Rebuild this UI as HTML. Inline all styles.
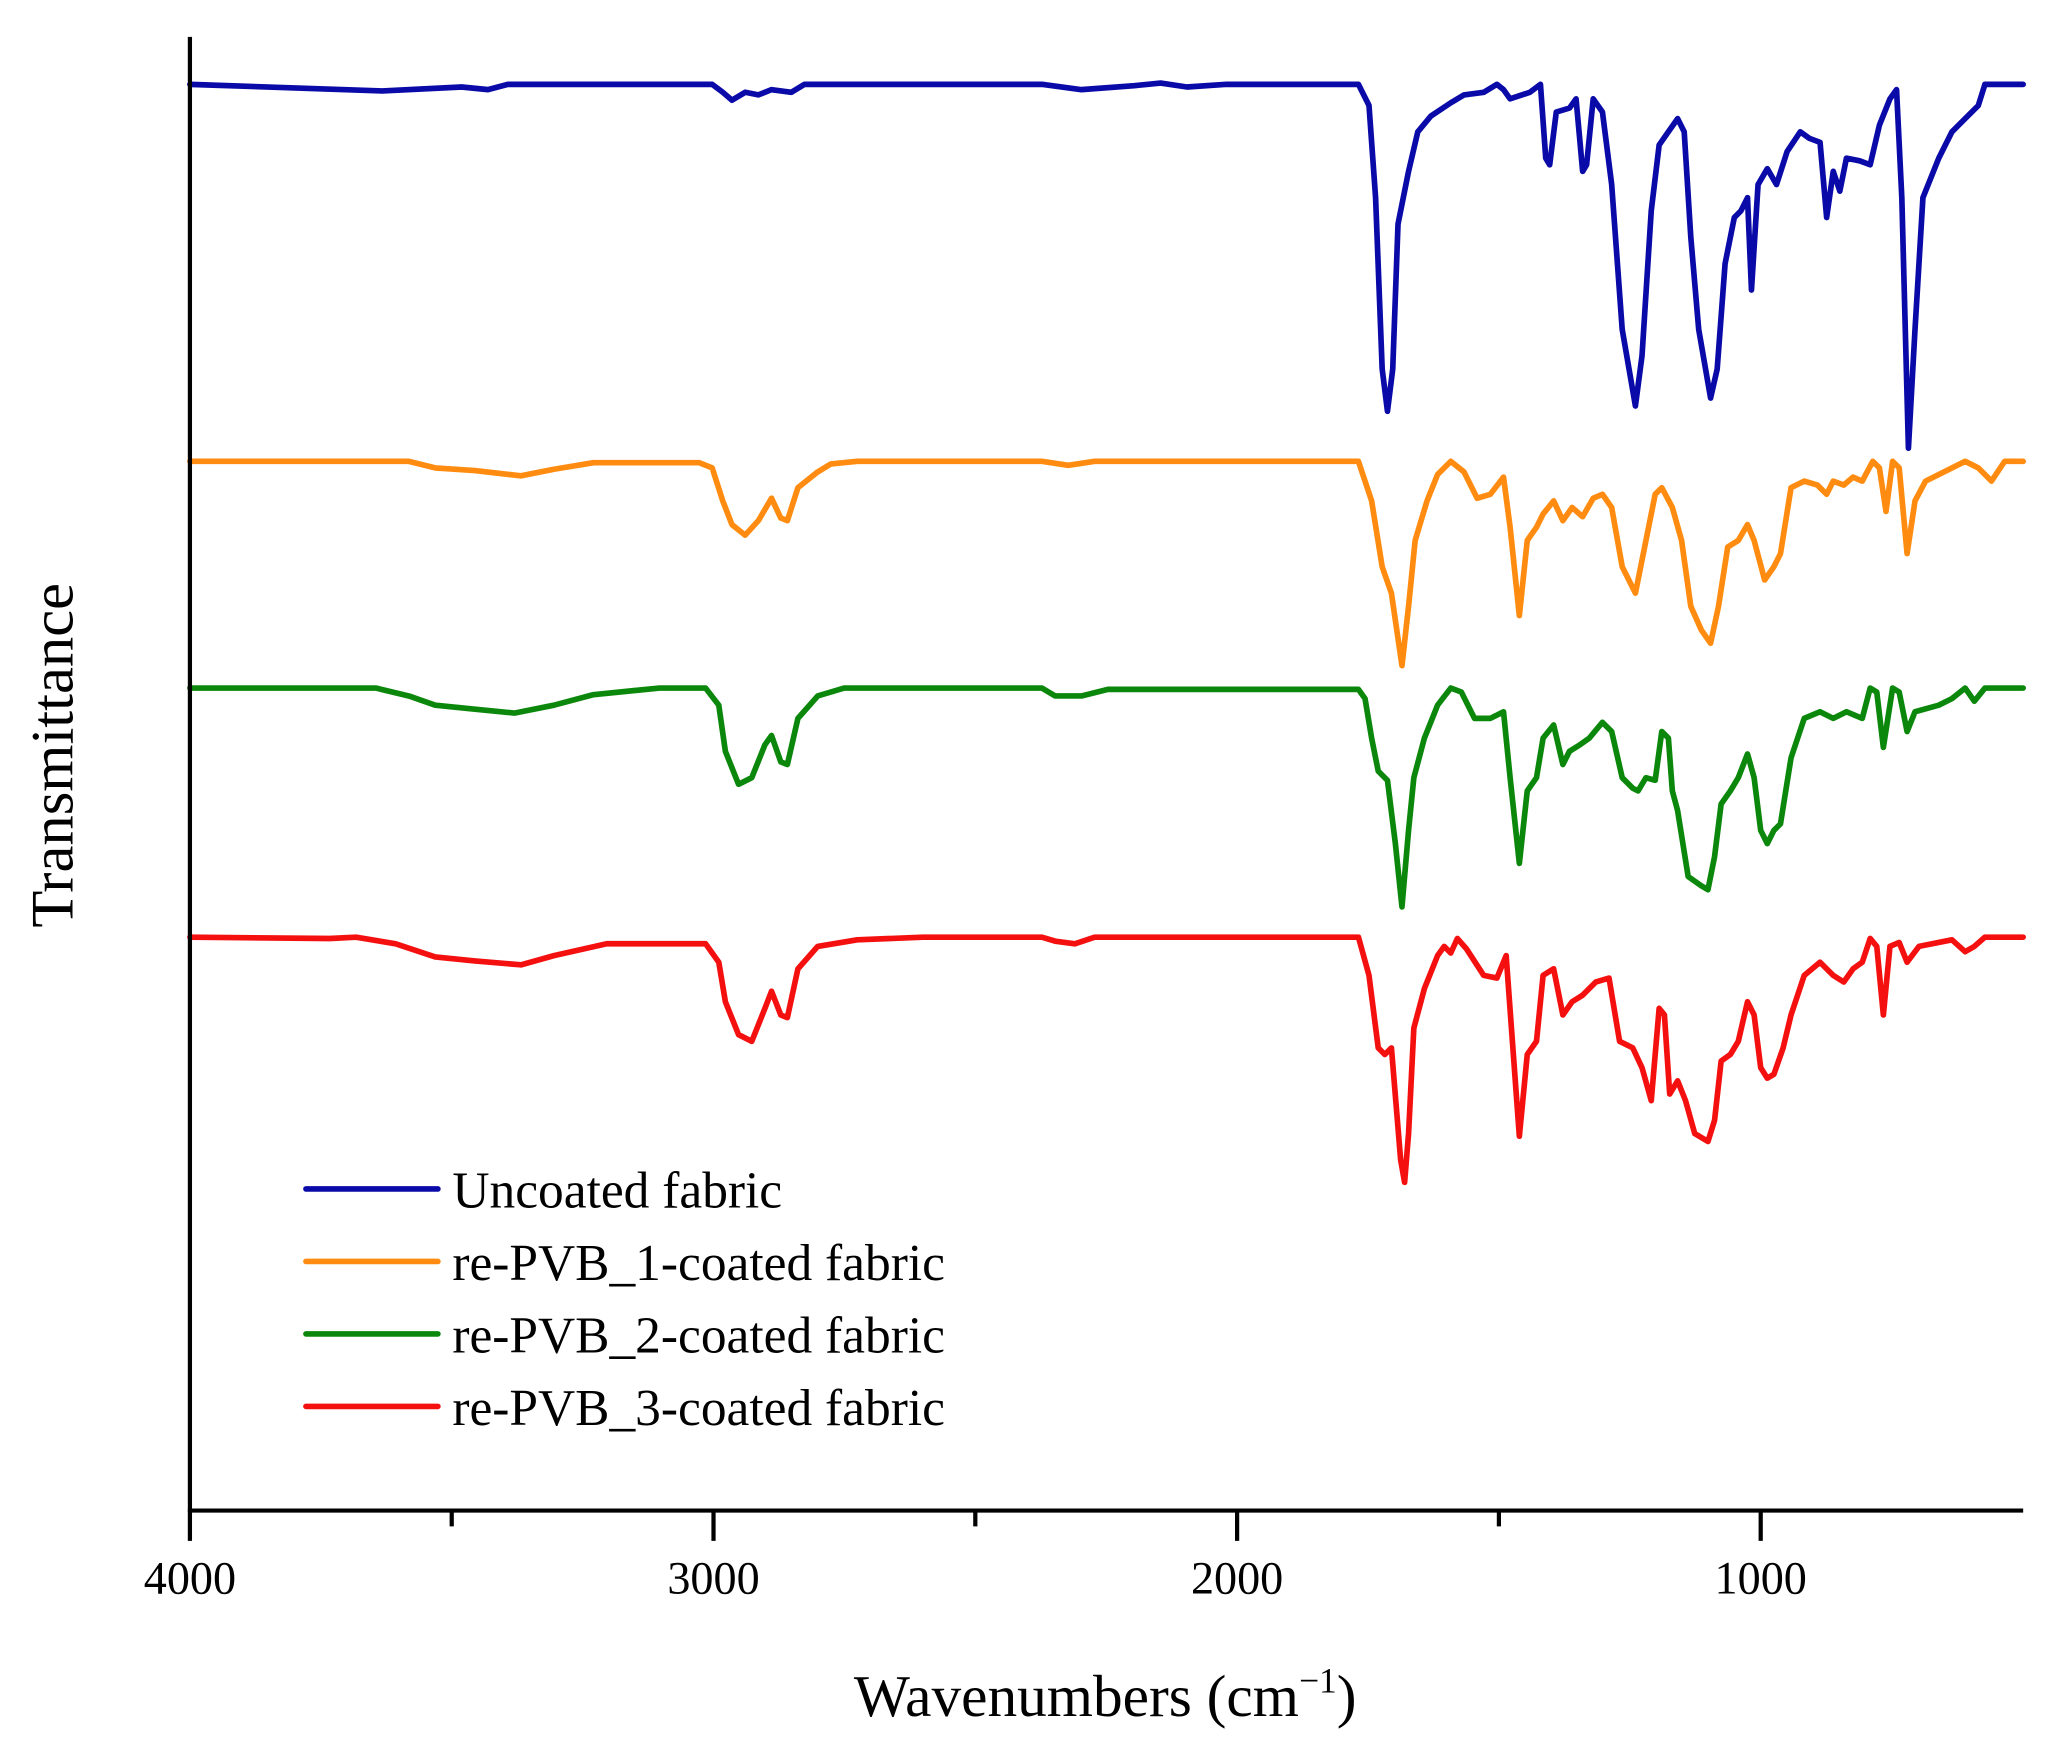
<!DOCTYPE html>
<html><head><meta charset="utf-8"><style>
html,body{margin:0;padding:0;background:#fff;}
svg{display:block;}
text{font-family:"Liberation Serif",serif;fill:#000;}
</style></head><body>
<svg width="2068" height="1761" viewBox="0 0 1568 1336" preserveAspectRatio="none" xmlns="http://www.w3.org/2000/svg">
<g fill="none" stroke-width="4.3" stroke-linejoin="round" stroke-linecap="round">
<polyline stroke="#0a0aa8" points="144,64 290,69 350,66 370,68 385,64 540,64 548,70 555,76 565,70 575,72 585,68 600,70 610,64 790,64 820,68 860,65 880,63 900,66 930,64 1030,64 1038,80 1043,150 1048,280 1052,312 1056,280 1060,170 1068,130 1075,100 1085,88 1100,78 1110,72 1125,70 1135,64 1140,68 1145,75 1160,70 1168,64 1172,120 1175,125 1180,85 1190,82 1195,75 1200,130 1203,125 1208,75 1215,85 1222,140 1230,250 1240,308 1245,270 1252,160 1258,110 1265,100 1272,90 1277,100 1282,180 1288,250 1297,302 1302,280 1308,200 1315,165 1320,160 1325,150 1328,220 1333,140 1340,128 1347,140 1355,115 1365,100 1372,105 1380,108 1385,165 1390,130 1395,145 1400,120 1410,122 1418,125 1425,95 1433,75 1438,68 1442,150 1447,340 1452,250 1458,150 1470,120 1480,100 1490,90 1500,80 1505,64 1534,64"/>
<polyline stroke="#ff8c10" points="144,350 310,350 330,355 360,357 395,361 420,356 450,351 530,351 540,355 548,380 555,398 565,406 575,395 585,378 592,393 597,395 605,370 620,358 630,352 650,350 790,350 810,353 830,350 1030,350 1040,380 1048,430 1055,450 1063,505 1068,460 1073,410 1082,380 1090,360 1100,350 1110,358 1120,378 1130,375 1140,362 1145,400 1152,467 1158,410 1165,400 1170,390 1178,380 1185,395 1192,385 1200,392 1208,378 1215,375 1222,385 1230,430 1240,450 1248,410 1255,375 1260,370 1268,385 1275,410 1282,460 1290,478 1297,488 1303,460 1310,415 1318,410 1325,398 1330,410 1338,440 1345,430 1350,420 1358,370 1368,365 1378,368 1385,375 1390,365 1398,368 1405,362 1412,365 1420,350 1425,355 1430,388 1435,350 1440,355 1446,420 1452,380 1460,365 1480,355 1490,350 1500,355 1510,365 1520,350 1534,350"/>
<polyline stroke="#0b870b" points="144,522 285,522 310,528 330,535 360,538 390,541 420,535 450,527 500,522 535,522 545,535 550,570 560,595 570,590 580,565 585,558 592,578 597,580 605,545 620,528 640,522 790,522 800,528 820,528 840,523 1030,523 1035,530 1040,560 1045,585 1052,592 1058,640 1063,688 1068,630 1072,590 1080,560 1090,535 1100,522 1108,525 1118,545 1130,545 1140,540 1145,590 1152,655 1158,600 1165,590 1170,560 1178,550 1185,580 1190,570 1198,565 1205,560 1215,548 1222,555 1230,590 1238,598 1242,600 1248,590 1255,592 1260,555 1265,560 1268,600 1272,615 1280,665 1290,672 1295,675 1300,650 1305,610 1312,600 1318,590 1325,572 1330,590 1335,630 1340,640 1345,630 1350,625 1358,575 1368,545 1380,540 1390,545 1400,540 1412,545 1418,522 1423,525 1428,567 1435,522 1440,525 1446,555 1452,540 1470,535 1480,530 1490,522 1497,532 1505,522 1534,522"/>
<polyline stroke="#f51010" points="144,711 250,712 270,711 300,716 330,726 360,729 395,732 420,725 460,716 535,716 545,730 550,760 560,785 570,790 580,765 585,752 592,770 597,772 605,735 620,718 650,713 700,711 790,711 800,714 815,716 830,711 1030,711 1038,740 1045,795 1050,800 1055,795 1062,880 1065,897 1068,860 1072,780 1080,750 1090,725 1095,718 1100,723 1105,712 1112,720 1125,740 1135,742 1142,725 1146,780 1152,862 1158,800 1165,790 1170,740 1178,735 1185,770 1192,760 1200,755 1210,745 1220,742 1228,790 1238,795 1245,810 1252,835 1258,765 1262,770 1266,830 1272,820 1278,835 1285,860 1295,866 1300,850 1305,805 1312,800 1318,790 1325,760 1330,770 1335,810 1340,818 1345,815 1352,795 1358,770 1368,740 1380,730 1390,740 1398,745 1405,735 1412,730 1418,712 1423,718 1428,770 1433,718 1440,715 1446,730 1455,718 1480,713 1490,722 1497,718 1505,711 1534,711"/>
</g>
<g stroke="#000" stroke-width="3.2" fill="none">
<line x1="144" y1="28" x2="144" y2="1147"/>
<line x1="142.5" y1="1146" x2="1534" y2="1146"/>
<line x1="144" y1="1146" x2="144" y2="1169"/>
<line x1="541" y1="1146" x2="541" y2="1169"/>
<line x1="938" y1="1146" x2="938" y2="1169"/>
<line x1="1335" y1="1146" x2="1335" y2="1169"/>
<line x1="342.5" y1="1146" x2="342.5" y2="1158"/>
<line x1="739.5" y1="1146" x2="739.5" y2="1158"/>
<line x1="1136.5" y1="1146" x2="1136.5" y2="1158"/>
</g>
<g font-size="35" text-anchor="middle">
<text x="144" y="1209">4000</text>
<text x="541" y="1209">3000</text>
<text x="938" y="1209">2000</text>
<text x="1335" y="1209">1000</text>
</g>
<text x="838" y="1302" font-size="45" text-anchor="middle">Wavenumbers (cm<tspan font-size="27" dy="-18">−1</tspan><tspan dy="18">)</tspan></text>
<text transform="translate(55,573) rotate(-90)" font-size="46" text-anchor="middle">Transmittance</text>
<g stroke-width="4.3" stroke-linecap="round">
<line x1="232" y1="902" x2="332" y2="902" stroke="#0a0aa8"/>
<line x1="232" y1="957" x2="332" y2="957" stroke="#ff8c10"/>
<line x1="232" y1="1012" x2="332" y2="1012" stroke="#0b870b"/>
<line x1="232" y1="1067" x2="332" y2="1067" stroke="#f51010"/>
</g>
<g font-size="39">
<text x="343" y="916">Uncoated fabric</text>
<text x="343" y="971">re-PVB_1-coated fabric</text>
<text x="343" y="1026">re-PVB_2-coated fabric</text>
<text x="343" y="1081">re-PVB_3-coated fabric</text>
</g>
</svg>
</body></html>
